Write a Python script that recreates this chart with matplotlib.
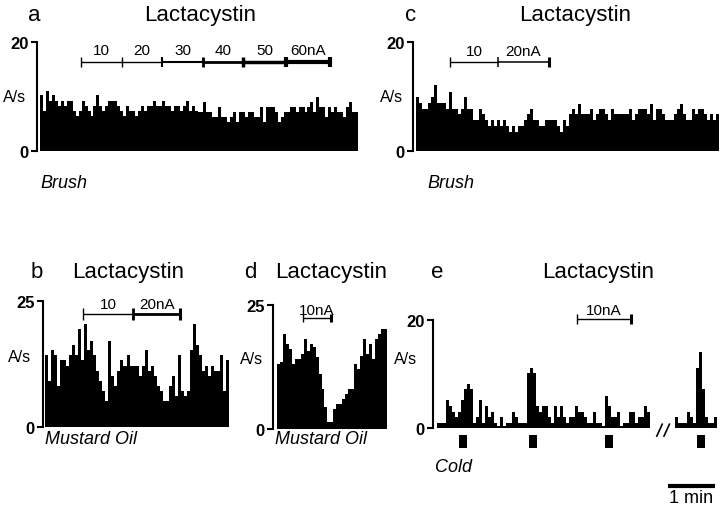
import numpy as np
import matplotlib
matplotlib.use('Agg')
import matplotlib.pyplot as plt

plt.rcParams['font.family'] = 'Liberation Sans'

W, H = 720, 510

# --------------------------------------------------------------------------------
# DATA (A/s per bin)
# --------------------------------------------------------------------------------
brush_a = [10.3, 7.3, 11.1, 9.2, 10.3, 9.2, 8.3, 9.2, 8.3, 9.2, 9.2, 7.3, 6.4, 7.3,
           9.2, 8.3, 7.3, 6.4, 8.3, 10.3, 8.3, 7.3, 8.3, 9.2, 9.2, 9.2, 8.3, 7.3,
           6.4, 8.3, 7.3, 7.3, 6.4, 7.3, 8.3, 7.3, 8.3, 8.3, 9.2, 8.3, 8.3, 9.2,
           8.3, 8.3, 7.3, 8.3, 8.3, 7.3, 8.3, 9.2, 7.3, 8.3, 7.3,
           7.1, 7.1, 9.0, 7.1, 7.1, 6.2, 6.2, 8.0, 6.2, 6.2, 5.3, 6.2, 7.1, 5.3,
           7.1, 7.1, 6.2, 7.1, 7.1, 6.2, 6.2, 8.0, 5.3, 8.0, 8.0, 8.0, 7.1, 5.3,
           6.2, 7.1, 7.1, 8.0, 8.0, 7.1, 8.0, 8.0, 7.1, 8.0, 9.0, 7.1, 10.0, 8.0,
           8.0, 6.2, 8.0, 7.1, 8.0, 7.1, 7.1, 6.2, 8.0, 9.0, 7.1, 7.1]

brush_c = [9.9, 8.8, 7.7, 7.7, 8.8, 9.9, 12.1, 8.8, 8.8, 8.8, 7.7, 10.8, 7.7, 7.7,
           6.8, 7.7, 9.9, 7.7, 7.7, 5.6, 5.6, 7.7, 6.8, 5.6, 4.5, 5.6, 4.5, 5.6,
           4.5, 5.6, 4.5, 3.5, 4.5, 3.5, 4.5, 4.5, 5.6, 6.8, 7.7, 5.6, 5.6, 4.5,
           4.5, 5.6, 5.6, 5.6, 5.6, 4.5,
           3.5, 5.7, 4.5, 6.7, 7.7, 6.7, 8.7, 6.7, 6.7, 6.7, 7.7, 5.7, 6.7, 7.7,
           7.7, 6.7, 5.7, 7.7, 6.7, 6.7, 6.7, 6.7, 6.7, 7.7, 5.7, 6.7, 7.7, 7.7,
           7.7, 6.7, 8.7, 5.7, 7.7, 7.7, 6.7, 5.7, 5.7, 5.7, 6.7, 7.7, 8.7, 6.7,
           5.7, 5.7, 7.7, 6.7, 7.7, 7.7, 6.7, 5.7, 6.7, 5.7, 6.7]

mustard_b = [14.3, 9.2, 15.3, 14.3, 8.2, 13.2, 13.2, 12.2, 14.3, 16.3, 14.3, 19.4,
             13.2, 20.4, 15.3, 17.1, 14.3, 11.2, 9.2, 7.2, 5.2, 17.1, 10.2, 8.2,
             11.2, 13.2, 12.2, 14.3, 12.2, 12.2, 12.2, 10.2, 12.2, 15.3, 11.2,
             12.2, 10.2, 8.2, 7.2, 5.2, 5.2, 8.2, 10.2, 6.2, 14.3, 7.2, 6.2, 7.2,
             15.3, 20.4, 16.3, 14.3, 11.2, 12.2, 10.2, 12.2, 11.2, 11.2, 14.3,
             7.2, 13.2]

mustard_d = [13.1, 13.5, 19.2, 17.1, 16.1, 13.1, 14.1, 14.1, 15.1, 18.1, 15.8,
             17.1, 16.5, 14.5, 11.1, 8.1, 4.4, 1.4, 1.4, 4.0, 5.0, 5.0, 6.0, 7.0,
             8.1, 8.1, 13.1, 12.1, 14.8, 18.1, 15.1, 17.1, 14.1, 18.1, 19.2,
             20.1, 20.1]

cold_e1 = [0.9, 0.9, 0.9, 5.1, 4.0, 2.9, 2.0, 2.9, 5.1, 7.2, 8.1, 7.2, 0.9, 2.0,
           5.1, 0.9, 4.0, 2.0, 2.9, 0.9, 0.4, 2.0, 0.4, 0.9, 0.9, 2.9, 2.0, 0.9,
           0.9, 0.9, 10.2, 11.2, 10.2, 4.0, 2.9, 4.0, 4.0, 2.0, 0.9, 4.0, 2.0,
           4.0, 2.0, 0.9, 2.0, 2.0, 4.0, 2.9, 2.9, 2.0, 0.9, 0.9, 2.9, 0.9, 0.9,
           0.4, 6.0, 4.0, 2.0, 2.0, 2.9, 0.4, 0.9, 0.9, 2.9, 2.9, 0.9, 2.0, 2.0,
           4.0, 2.9]
cold_e2 = [2.0, 0.9, 0.9, 0.9, 2.9, 2.0, 0.9, 11.2, 14.0, 7.2, 2.0, 0.9, 0.9, 2.0]

# stimulus onsets (bins) for cold
cold_onsets = [8.7, 32.0, 57.3, 88.0]

# iontophoresis currents and their bin boundaries
currents_a = ['10', '20', '30', '40', '50', '60nA']
edges_a = [13.8, 27.6, 41.1, 54.9, 68.4, 82.8, 97.6]
currents_c = ['10', '20nA']
edges_c = [11.3, 27.3, 44.3]
currents_b = ['10', '20nA']
edges_b = [12.6, 29.2, 44.8]
currents_d = ['10nA']
edges_d = [8.8, 18.2]
currents_e = ['10nA']
edges_e = [46.7, 64.7]

fig = plt.figure(figsize=(7.2, 5.1), dpi=100)


def px_axes(left, right, top, bottom):
    return fig.add_axes([left / W, 1 - bottom / H, (right - left) / W, (bottom - top) / H])


def ftext(x, y, s, **kw):
    fig.text(x / W, 1 - y / H, s, **kw)


def setup(ax, ymax, xmin, xmax):
    ax.set_xlim(xmin, xmax)
    ax.set_ylim(0, ymax)
    ax.set_yticks([0, ymax])
    ax.set_xticks([])
    for s in ['top', 'right', 'bottom']:
        ax.spines[s].set_visible(False)
    ax.spines['left'].set_linewidth(1.5)
    ax.tick_params(axis='y', length=4.5, width=1.5, pad=1.5, labelsize=12)
    for t in ax.get_yticklabels():
        t.set_fontweight('bold')
    ax.patch.set_alpha(0)


def hist(ax, vals, start=0):
    edges = np.arange(len(vals) + 1) + start
    ax.stairs(vals, edges, fill=True, color='black', lw=0)


def stim(ax, edges, labels, widths, y, label_y, cap):
    for i in range(len(edges) - 1):
        ax.plot([edges[i], edges[i + 1]], [y, y], color='black', lw=widths[i],
                solid_capstyle='butt', clip_on=False)
    for j, e in enumerate(edges):
        w = max(widths[max(j - 1, 0)], widths[min(j, len(widths) - 1)])
        if j == len(edges) - 1:
            w = max(w, 2.2)
        ax.plot([e, e], [y - cap, y + cap], color='black', lw=w,
                solid_capstyle='butt', clip_on=False)
    for i, lab in enumerate(labels):
        ax.text((edges[i] + edges[i + 1]) / 2, label_y, lab, ha='center',
                va='baseline', fontsize=11, clip_on=False)


# ---- a ----
ax = px_axes(37, 358, 43, 152)
setup(ax, 20, -1, len(brush_a))
hist(ax, brush_a)
stim(ax, edges_a, currents_a, [1.0, 1.0, 1.5, 2.0, 2.5, 3.0], 16.3, 17.8, 0.95)
ftext(34, 21, 'a', fontsize=16, ha='center', va='baseline')
ftext(200, 21, 'Lactacystin', fontsize=16, ha='center', va='baseline')
ftext(15, 98, 'A/s', fontsize=11.5, ha='center', va='center')
ftext(40, 188, 'Brush', fontsize=13, style='italic', ha='left', va='baseline')

# ---- c ----
ax = px_axes(413, 719, 43, 152)
setup(ax, 20, -1, len(brush_c))
hist(ax, brush_c)
stim(ax, edges_c, currents_c, [1.0, 1.1], 16.3, 17.6, 0.95)
ftext(411, 21, 'c', fontsize=16, ha='center', va='baseline')
ftext(575, 21, 'Lactacystin', fontsize=16, ha='center', va='baseline')
ftext(392, 98, 'A/s', fontsize=11.5, ha='center', va='center')
ftext(427, 188, 'Brush', fontsize=13, style='italic', ha='left', va='baseline')

# ---- b ----
ax = px_axes(43, 229, 302, 428)
setup(ax, 25, -0.7, len(mustard_b))
hist(ax, mustard_b)
stim(ax, edges_b, currents_b, [1.0, 2.0], 22.4, 23.6, 1.2)
ftext(37, 278, 'b', fontsize=16, ha='center', va='baseline')
ftext(128, 278, 'Lactacystin', fontsize=16, ha='center', va='baseline')
ftext(20, 358, 'A/s', fontsize=11.5, ha='center', va='center')
ftext(45, 444, 'Mustard Oil', fontsize=13, style='italic', ha='left', va='baseline')

# ---- d ----
ax = px_axes(273, 387, 306, 430)
setup(ax, 25, -1.3, len(mustard_d))
hist(ax, mustard_d)
stim(ax, edges_d, currents_d, [1.0], 22.4, 23.2, 0.75)
ftext(250, 278, 'd', fontsize=16, ha='center', va='baseline')
ftext(331, 278, 'Lactacystin', fontsize=16, ha='center', va='baseline')
ftext(252, 360, 'A/s', fontsize=11.5, ha='center', va='center')
ftext(275, 444, 'Mustard Oil', fontsize=13, style='italic', ha='left', va='baseline')

# ---- e ----
seg2_start = 79.3
ax = px_axes(433, 718, 321, 429)
setup(ax, 20, -1.3, seg2_start + len(cold_e2) + 0.4)
hist(ax, cold_e1)
hist(ax, cold_e2, seg2_start)
stim(ax, edges_e, currents_e, [1.0], 20.2, 21.1, 0.93)
ax.bar(cold_onsets, -2.4, bottom=-1.3, width=2.7, color='black', clip_on=False)
# axis break
for x0 in [73.3, 75.7]:
    ax.plot([x0, x0 + 1.8], [-1.5, 0.7], color='black', lw=1.2, clip_on=False)
# 1 min scale bar
ax.plot([77, 77 + 15.7], [-10.7, -10.7], color='black', lw=3,
        solid_capstyle='butt', clip_on=False)
ax.text(77 + 15.7 / 2, -13.7, '1 min', fontsize=13, ha='center', va='baseline',
        clip_on=False)
ftext(437, 278, 'e', fontsize=16, ha='center', va='baseline')
ftext(598, 278, 'Lactacystin', fontsize=16, ha='center', va='baseline')
ftext(406, 360, 'A/s', fontsize=11.5, ha='center', va='center')
ftext(435, 472, 'Cold', fontsize=13, style='italic', ha='left', va='baseline')

fig.savefig('out.png', dpi=100, facecolor='white')
